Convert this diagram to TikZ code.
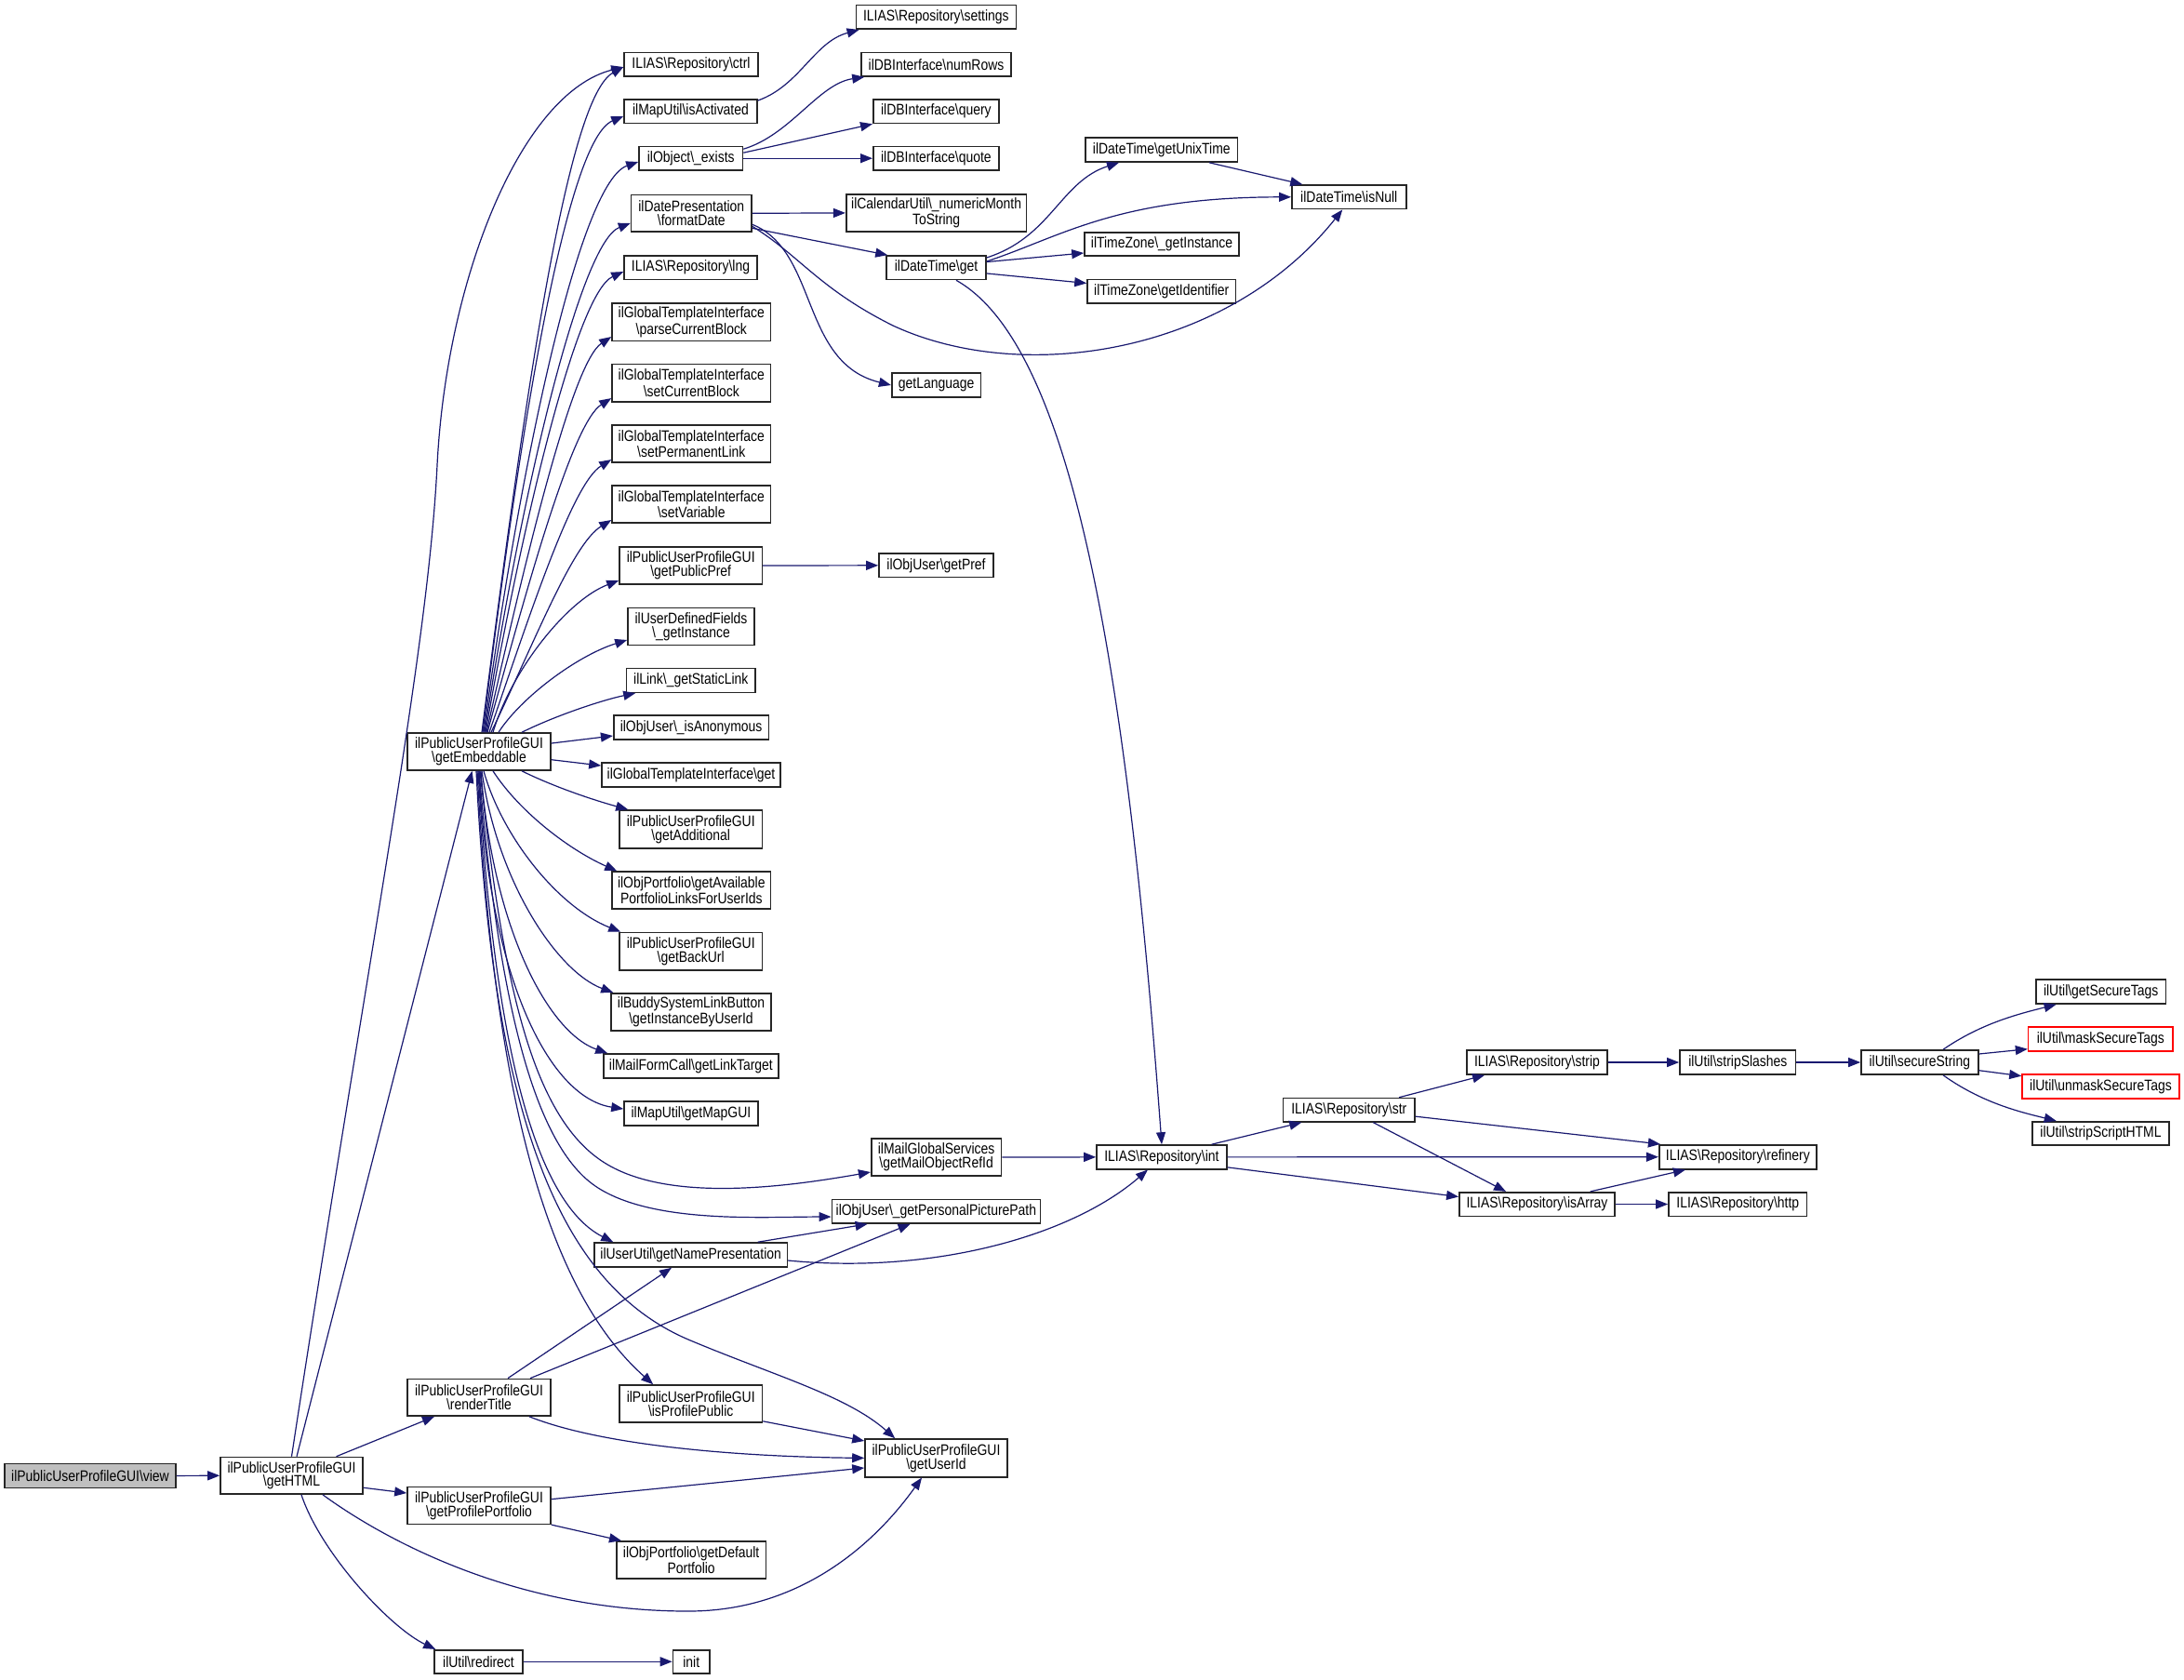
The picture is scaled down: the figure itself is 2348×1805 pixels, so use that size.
\documentclass[tikz,border=0pt]{standalone}
\usepackage{fontspec}
\setmainfont{Liberation Sans}[FakeStretch=0.85]
\usetikzlibrary{arrows.meta}
\definecolor{edgeblue}{RGB}{25,25,112}
\newcommand{\bsl}{\textbackslash}
\newcommand{\mkbox}[7][]{\node[box,#1,minimum width={0.5pt*(#5-#3)},minimum height={0.5pt*(#6-#4)}] (#2) at ({(#3+#5)/2},{(#4+#6)/2}) {#7};}
\tikzset{
 box/.style={draw=black!85, line width=0.8pt, fill=white, inner sep=0pt, align=center, font=\fontsize{8.2}{7.4}\selectfont, text=black},
 redbox/.style={draw=red},
 startbox/.style={fill=black!25},
 ln/.style={draw=edgeblue, line width=0.6pt, -{Triangle[length=6.5pt,width=5pt]}},
}
\begin{document}
\begin{tikzpicture}[x=0.5pt,y=-0.5pt]
\fill[white] (0,0) rectangle (2348,1805);
\useasboundingbox (0,0) rectangle (2348,1805);
% nodes
\mkbox[startbox]{view}{5}{1573.5}{189}{1599.3}{ilPublicUserProfileGUI\bsl view}
\mkbox{getHTML}{237}{1566.5}{390}{1606}{ilPublicUserProfileGUI\\\bsl getHTML}
\mkbox{getEmb}{438}{788}{592}{828}{ilPublicUserProfileGUI\\\bsl getEmbeddable}
\mkbox{renderTitle}{438}{1482.4}{592}{1522}{ilPublicUserProfileGUI\\\bsl renderTitle}
\mkbox{getProfPort}{438}{1598.5}{592}{1638.3}{ilPublicUserProfileGUI\\\bsl getProfilePortfolio}
\mkbox{redirect}{467}{1773.7}{562}{1798.8}{ilUtil\bsl redirect}
\mkbox{init}{723.5}{1773.7}{763}{1798.8}{init}
\mkbox{ctrl}{671}{56.5}{815}{82}{ILIAS\bsl Repository\bsl ctrl}
\mkbox{isAct}{671}{106.8}{814}{132.5}{ilMapUtil\bsl isActivated}
\mkbox{exists}{687}{157.4}{798.5}{183}{ilObject\bsl\_exists}
\mkbox{formatDate}{678.6}{209.6}{808}{249}{ilDatePresentation\\\bsl formatDate}
\mkbox{lng}{671}{274.8}{814}{300.5}{ILIAS\bsl Repository\bsl lng}
\mkbox{parseCB}{658}{326}{828.6}{366.5}{ilGlobalTemplateInterface\\\bsl parseCurrentBlock}
\mkbox{setCB}{658}{391.5}{828.6}{431.8}{ilGlobalTemplateInterface\\\bsl setCurrentBlock}
\mkbox{setPL}{658}{456.7}{828.6}{497}{ilGlobalTemplateInterface\\\bsl setPermanentLink}
\mkbox{setVar}{658}{522}{828.6}{562}{ilGlobalTemplateInterface\\\bsl setVariable}
\mkbox{pubPref}{666}{588}{819.4}{628}{ilPublicUserProfileGUI\\\bsl getPublicPref}
\mkbox{udf}{675}{653.4}{811}{693.3}{ilUserDefinedFields\\\bsl\_getInstance}
\mkbox{staticLink}{673.5}{718.6}{812}{744.3}{ilLink\bsl\_getStaticLink}
\mkbox{isAnon}{659.7}{769}{826.5}{795}{ilObjUser\bsl\_isAnonymous}
\mkbox{gtiGet}{647}{820}{839}{846}{ilGlobalTemplateInterface\bsl get}
\mkbox{getAdd}{666}{871}{819.4}{912}{ilPublicUserProfileGUI\\\bsl getAdditional}
\mkbox{getAvail}{658}{937}{828.6}{977}{ilObjPortfolio\bsl getAvailable\\PortfolioLinksForUserIds}
\mkbox{backUrl}{666}{1002.5}{819.4}{1043}{ilPublicUserProfileGUI\\\bsl getBackUrl}
\mkbox{buddy}{657}{1067.8}{829}{1108}{ilBuddySystemLinkButton\\\bsl getInstanceByUserId}
\mkbox{linkTarget}{649}{1133}{836.7}{1158.7}{ilMailFormCall\bsl getLinkTarget}
\mkbox{mapGUI}{671}{1184}{814.8}{1209.7}{ilMapUtil\bsl getMapGUI}
\mkbox{namePres}{639}{1336}{846.4}{1362}{ilUserUtil\bsl getNamePresentation}
\mkbox{isPublic}{666}{1489}{819.4}{1529}{ilPublicUserProfileGUI\\\bsl isProfilePublic}
\mkbox{defPort}{662.8}{1657}{823.5}{1697}{ilObjPortfolio\bsl getDefault\\Portfolio}
\mkbox{mailRef}{936.7}{1224}{1076.5}{1264}{ilMailGlobalServices\\\bsl getMailObjectRefId}
\mkbox{picPath}{894.4}{1289.5}{1118.4}{1315}{ilObjUser\bsl\_getPersonalPicturePath}
\mkbox{userId}{930}{1547}{1083}{1587.7}{ilPublicUserProfileGUI\\\bsl getUserId}
\mkbox{settings}{920.4}{5.5}{1092.3}{31.2}{ILIAS\bsl Repository\bsl settings}
\mkbox{numRows}{926}{56.5}{1087}{82}{ilDBInterface\bsl numRows}
\mkbox{query}{938.8}{106.8}{1074}{132.5}{ilDBInterface\bsl query}
\mkbox{quote}{938.8}{157.4}{1074}{183}{ilDBInterface\bsl quote}
\mkbox{numMonth}{909.7}{208.8}{1103.6}{249}{ilCalendarUtil\bsl\_numericMonth\\ToString}
\mkbox{dtGet}{953}{275}{1060}{300.5}{ilDateTime\bsl get}
\mkbox{getLang}{958.7}{401}{1054.6}{427}{getLanguage}
\mkbox{getPref}{945}{595}{1068}{620.6}{ilObjUser\bsl getPref}
\mkbox{unixTime}{1167}{148}{1330.6}{174}{ilDateTime\bsl getUnixTime}
\mkbox{isNull}{1388.8}{199}{1511.7}{224.6}{ilDateTime\bsl isNull}
\mkbox{tzInst}{1166}{250}{1332}{275}{ilTimeZone\bsl\_getInstance}
\mkbox{tzIdent}{1169}{300.5}{1328.6}{326}{ilTimeZone\bsl getIdentifier}
\mkbox{int}{1179}{1231}{1318.9}{1256.7}{ILIAS\bsl Repository\bsl int}
\mkbox{str}{1379.6}{1180.5}{1521}{1205.8}{ILIAS\bsl Repository\bsl str}
\mkbox{isArray}{1568.9}{1281.7}{1736}{1307.3}{ILIAS\bsl Repository\bsl isArray}
\mkbox{refinery}{1783.7}{1230.7}{1953}{1256.7}{ILIAS\bsl Repository\bsl refinery}
\mkbox{http}{1794}{1281.7}{1942.6}{1307.3}{ILIAS\bsl Repository\bsl http}
\mkbox{strip}{1577}{1129}{1727.9}{1155}{ILIAS\bsl Repository\bsl strip}
\mkbox{stripSl}{1806}{1129}{1930.6}{1155}{ilUtil\bsl stripSlashes}
\mkbox{secStr}{2001}{1129}{2126.7}{1155}{ilUtil\bsl secureString}
\mkbox{getSec}{2188.7}{1053}{2328.5}{1079}{ilUtil\bsl getSecureTags}
\mkbox[redbox]{maskSec}{2180.6}{1104}{2336}{1130}{ilUtil\bsl maskSecureTags}
\mkbox[redbox]{unmaskSec}{2174}{1155}{2343}{1181}{ilUtil\bsl unmaskSecureTags}
\mkbox{stripHTML}{2185}{1205.7}{2332}{1231}{ilUtil\bsl stripScriptHTML}
% edges from view / getHTML
\draw[ln] (view.east) -- (getHTML.west);
\draw[ln] (getHTML.north) .. controls (400,1000) and (460,700) .. (470,500) .. controls (480,300) and (560,100) .. ([yshift=-1.4pt]ctrl.west);
\draw[ln] ([xshift=2.75pt]getHTML.north) -- ([xshift=-3.7pt]getEmb.south);
\draw[ln] ([xshift=24pt]getHTML.north) -- ([xshift=-24pt]renderTitle.south);
\draw[ln] ([yshift=-6.5pt]getHTML.east) -- ([yshift=6.7pt]getProfPort.west);
\draw[ln] ([xshift=16.75pt]getHTML.south) .. controls (420,1660) and (560,1732) .. (740,1732) .. controls (860,1732) and (940,1660) .. ([xshift=-7.75pt]userId.south);
\draw[ln] ([xshift=5.25pt]getHTML.south) .. controls (345,1670) and (420,1750) .. ([xshift=1pt]redirect.north west);
\draw[ln] (redirect.east) -- (init.west);
% renderTitle, getProfilePortfolio, isProfilePublic
\draw[ln] ([xshift=15.5pt]renderTitle.north) -- ([xshift=-10.35pt]namePres.south);
\draw[ln] ([xshift=27.5pt]renderTitle.north) -- ([xshift=-13.9pt]picPath.south);
\draw[ln] ([xshift=27pt]renderTitle.south) .. controls (650,1555) and (800,1566) .. (userId.west);
\draw[ln] ([yshift=3.4pt]getProfPort.east) -- ([yshift=-5.3pt]userId.west);
\draw[ln] (getProfPort.south east) -- ([xshift=3pt]defPort.north west);
\draw[ln] ([yshift=1pt]isPublic.south east) -- ([yshift=9.2pt]userId.west);
% getEmbeddable fan (upper)
\draw[ln] ([xshift=1.5pt]getEmb.north) .. controls (565,420) and (610,105) .. ([yshift=-1.4pt]ctrl.west);
\draw[ln] ([xshift=2pt]getEmb.north) .. controls (560,450) and (610,150) .. ([yshift=-2.7pt]isAct.west);
\draw[ln] ([xshift=2.5pt]getEmb.north) .. controls (562,480) and (625,195) .. ([yshift=-1.9pt]exists.west);
\draw[ln] ([xshift=3pt]getEmb.north) .. controls (562,520) and (625,260) .. ([yshift=-5.3pt]formatDate.west);
\draw[ln] ([xshift=3.5pt]getEmb.north) .. controls (562,560) and (620,315) .. ([yshift=-2.2pt]lng.west);
\draw[ln] ([xshift=4pt]getEmb.north) .. controls (565,600) and (615,390) .. ([yshift=-7.9pt]parseCB.west);
\draw[ln] ([xshift=4.5pt]getEmb.north) .. controls (567,630) and (615,455) .. ([yshift=-8.2pt]setCB.west);
\draw[ln] ([xshift=5.5pt]getEmb.north) .. controls (570,660) and (615,520) .. ([yshift=-8.6pt]setPL.west);
\draw[ln] ([xshift=6.5pt]getEmb.north) .. controls (575,690) and (615,585) .. ([yshift=-8.5pt]setVar.west);
\draw[ln] ([xshift=7.5pt]getEmb.north) .. controls (550,720) and (610,645) .. ([yshift=-8pt]pubPref.west);
\draw[ln] ([xshift=10.5pt]getEmb.north) .. controls (560,750) and (620,705) .. ([yshift=-7.3pt]udf.west);
\draw[ln] ([xshift=23pt]getEmb.north) .. controls (600,768) and (650,752) .. ([xshift=5.25pt]staticLink.south west);
\draw[ln] ([yshift=4.5pt]getEmb.east) -- ([yshift=-4.5pt]isAnon.west);
\draw[ln] ([yshift=-4.35pt]getEmb.east) -- ([yshift=5pt]gtiGet.west);
% getEmbeddable fan (lower)
\draw[ln] ([xshift=23pt]getEmb.south) .. controls (600,848) and (645,862) .. ([xshift=5pt]getAdd.north west);
\draw[ln] ([xshift=7.5pt]getEmb.south) .. controls (560,875) and (615,915) .. ([xshift=3pt]getAvail.north west);
\draw[ln] ([xshift=2.5pt]getEmb.south) .. controls (540,900) and (600,975) .. ([xshift=1pt]backUrl.north west);
\draw[ln] ([xshift=1.5pt]getEmb.south) .. controls (535,950) and (600,1045) .. ([xshift=1.5pt]buddy.north west);
\draw[ln] ([xshift=1pt]getEmb.south) .. controls (530,1000) and (590,1110) .. ([xshift=2.5pt]linkTarget.north west);
\draw[ln] (getEmb.south) .. controls (525,1050) and (590,1180) .. ([yshift=2.4pt]mapGUI.west);
\draw[ln] ([xshift=0.5pt]getEmb.south) .. controls (540,1050) and (570,1200) .. (650,1250) .. controls (720,1294) and (850,1275) .. ([yshift=-8pt]mailRef.west);
\draw[ln] (getEmb.south) .. controls (535,1060) and (570,1227) .. (640,1275) .. controls (700,1316) and (820,1308) .. ([yshift=-2.9pt]picPath.west);
\draw[ln] ([xshift=-0.5pt]getEmb.south) .. controls (530,1100) and (570,1290) .. ([xshift=10.5pt]namePres.north west);
\draw[ln] ([xshift=-1pt]getEmb.south) .. controls (530,1150) and (580,1380) .. ([xshift=18.5pt]isPublic.north west);
\draw[ln] ([xshift=-1.5pt]getEmb.south) .. controls (530,1200) and (600,1380) .. (740,1440) .. controls (830,1478) and (910,1500) .. ([xshift=16.5pt]userId.north west);
% upper right
\draw[ln] ([yshift=5.8pt]isAct.east) .. controls (860,92) and (875,45) .. ([xshift=2pt]settings.south west);
\draw[ln] ([yshift=5pt]exists.east) .. controls (850,145) and (880,90) .. ([xshift=2pt]numRows.south west);
\draw[ln] ([yshift=3pt]exists.east) -- (query.south west);
\draw[ln] (exists.east) -- (quote.west);
\draw[ln] (formatDate.east) -- (numMonth.west);
\draw[ln] ([yshift=-8pt]formatDate.east) -- ([xshift=1pt]dtGet.north west);
\draw[ln] ([yshift=-6pt]formatDate.east) .. controls (880,270) and (860,390) .. (getLang.west);
\draw[ln] ([yshift=-7pt]formatDate.east) .. controls (860,275) and (880,310) .. (960,350) .. controls (1100,415) and (1320,380) .. ([xshift=-3.5pt]isNull.south);
\draw[ln] ([yshift=5.4pt]dtGet.east) .. controls (1130,255) and (1140,195) .. ([xshift=-22.9pt]unixTime.south);
\draw[ln] ([yshift=3.4pt]dtGet.east) .. controls (1140,255) and (1200,212) .. (isNull.west);
\draw[ln] ([yshift=3.1pt]dtGet.east) -- ([yshift=-4.75pt]tzInst.west);
\draw[ln] ([yshift=-3.1pt]dtGet.east) -- ([yshift=4.4pt]tzIdent.west);
\draw[ln] ([xshift=25.6pt]unixTime.south) -- ([xshift=-25pt]isNull.north);
\draw[ln] ([xshift=10.75pt]dtGet.south) .. controls (1150,370) and (1210,700) .. (int.north);
\draw[ln] (pubPref.east) -- (getPref.west);
% lower right
\draw[ln] (mailRef.east) -- (int.west);
\draw[ln] ([yshift=-3pt]namePres.east) .. controls (1000,1370) and (1150,1330) .. ([xshift=-7.5pt]int.south);
\draw[ln] ([xshift=36pt]namePres.north) -- ([xshift=-36.9pt]picPath.south);
\draw[ln] ([xshift=26.8pt]int.north) -- ([xshift=-25.5pt]str.south);
\draw[ln] (int.east) -- (refinery.west);
\draw[ln] ([yshift=-5.5pt]int.east) -- ([yshift=4pt]isArray.west);
\draw[ln] ([xshift=26.9pt]str.north) -- ([xshift=-28.2pt]strip.south);
\draw[ln] ([yshift=-3.5pt]str.east) -- ([xshift=1pt]refinery.north west);
\draw[ln] ([xshift=13pt]str.south) -- ([xshift=-16.7pt]isArray.north);
\draw[ln] ([xshift=28.6pt]isArray.north) -- ([xshift=-28.2pt]refinery.south);
\draw[ln] (isArray.east) -- (http.west);
\draw[ln] (strip.east) -- (stripSl.west);
\draw[ln] (stripSl.east) -- (secStr.west);
\draw[ln] ([xshift=12.6pt]secStr.north) .. controls (2130,1100) and (2170,1090) .. ([xshift=-24pt]getSec.south);
\draw[ln] ([yshift=4.5pt]secStr.east) -- ([yshift=-5.35pt]maskSec.west);
\draw[ln] ([yshift=-4.35pt]secStr.east) -- ([yshift=5.65pt]unmaskSec.west);
\draw[ln] ([xshift=12.6pt]secStr.south) .. controls (2130,1185) and (2170,1195) .. ([xshift=-23.9pt]stripHTML.north);
\end{tikzpicture}
\end{document}
